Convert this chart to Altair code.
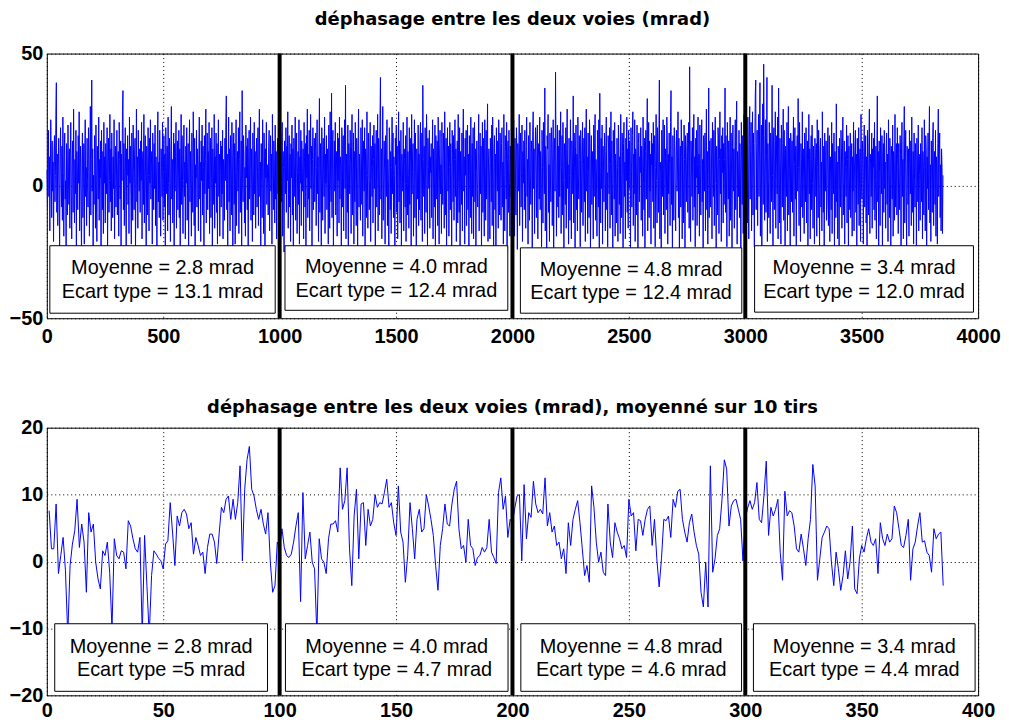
import altair as alt
import pandas as pd

# Raw phase difference (mrad), one value every 2 shots (shot numbers 1..3849)
RAW = [
    6, -9, 14, 21, -4, 11, -17, 3, 25, 8, -12, 17, -2, 9, -21, 13, 19, -6, 4, 27, 39, -10, 12, -15, 7,
    18, -3, -24, 10, 22, 1, -8, 15, -13, 26, 5, -19, 11, 20, -5, 2, -27, 16, 9, -11, 23, 3, -7, 14, -16,
    12, 24, -1, -20, 8, 17, -10, 29, 4, -14, 10, -3, 21, -23, 13, 6, -9, 19, 1, 28, -17, 7, 15, -6, -26,
    9, 20, -12, 3, 16, -22, 11, 25, -4, 7, -15, 18, 2, -8, 22, 13, -19, 5, 30, -11, 10, 40, -2, 14, -25,
    4, -7, 19, 12, -16, 23, 0, -21, 15, 8, -5, 26, -13, 10, 3, 17, -28, 21, 6, -9, 13, -18, 24, 1, 11,
    -14, 16, 7, -3, 22, -24, 9, 18, -10, 2, 27, -6, 14, -17, 20, 5, -12, 11, -1, 25, -20, 8, 15, -8, 3,
    21, -11, 6, 13, -19, 24, 10, -5, 17, -23, 12, 2, 28, 36, -9, 16, -15, 7, 22, -2, -26, 14, 4, 19, -7,
    10, -18, 26, 1, 15, -4, -22, 20, 8, -13, 23, 5, -9, 12, 18, -25, 3, 29, -6, 11, -16, 21, 7, -2, 14,
    -10, 17, 2, 24, -20, 9, 13, -7, 27, -14, 6, 19, -3, -28, 15, 10, -11, 22, 4, -17, 18, 1, 25, -5, 8,
    13, -22, 20, 6, -9, 16, -1, 23, -15, 11, 3, -26, 18, 28, -6, 9, -12, 21, 2, -19, 14, 7, -4, 24, -13,
    5, 19, -8, 12, -24, 22, 9, -3, 15, -17, 26, 1, -11, 18, 7, -21, 13, 30, -5, 10, -14, 4, 20, -27, 16,
    -2, 11, 24, -16, 8, 17, -9, 3, 21, -12, 14, -25, 6, 27, -7, 19, 2, -18, 12, 23, -4, 9, -20, 15, 1,
    22, -13, 7, 16, -23, 10, 25, -6, 13, -1, -19, 20, 4, -10, 28, 11, -15, 18, -27, 8, 3, 21, -8, 14, 6,
    -17, 12, 26, -5, 9, -21, 17, 2, 23, -11, 15, 7, -24, 19, -3, 10, 29, -14, 5, 20, -9, 13, -1, 24, -18,
    8, 18, -12, 3, 22, -26, 14, 6, -7, 27, -16, 11, 1, 20, -10, 16, -22, 9, 25, -4, 12, -19, 4, 17, -8,
    15, -3, 21, -20, 10, 6, -13, 18, 2, 23, 34, -9, 12, -25, 7, 26, -6, 14, -17, 19, 3, -11, 24, 9, -28,
    11, 20, -7, 16, -22, 5, 25, -15, 8, 13, -2, 22, -18, 10, 28, -10, 4, 17, -24, 36, 1, -6, 19, 12, -14,
    7, -19, 23, 3, 15, -9, 18, -27, 11, 21, -5, 9, 26, -13, 14, 2, -21, 20, 6, -11, 24, -3, 13, -16, 10,
    18, -8, 5, 22, -15, 12, 29, -4, 9, -23, 16, 1, -12, 25, 7, -18, 20, 11, -26, 14, 3, 24, -7, 8, -1,
    -11, 15, 21, -17, 6, 19, -2, 12, -22, 27, 4, -9, 17, 10, -14, 23, -5, 13, -20, 8, 18, -3, 26, -10, 2,
    9, -14, 20, 4, -6, 24, -19, 13, 7, -25, 17, 11, -3, 22, -10, 15, 2, 28, -16, 6, 19, -8, 12, -21, 16,
    3, 23, -11, 14, -27, 18, 8, -4, 26, -13, 10, 20, -18, 5, 13, -7, 25, -22, 11, 1, 21, -15, 17, 7, -2,
    14, -20, 24, 9, -8, 16, -24, 19, 3, 29, -12, 12, -5, 21, -17, 8, 27, -1, 15, -26, 10, 22, -9, 4, 18,
    -6, 13, 20, -15, 7, 25, -3, 11, -21, 17, 33, -10, 16, 2, -23, 22, 9, -13, 18, 6, -4, 26, -18, 12, 1,
    19, -9, 14, 5, -22, 23, 10, -16, 28, 3, -6, 35, -12, 15, 21, -27, 8, 17, -2, 24, -11, 6, 13, -19, 20,
    2, 18, -14, 26, -5, 11, 7, -24, 22, 14, -8, 19, -17, 9, 25, -1, 38, -20, 12, 4, -10, 23, -26, 16, 10,
    -3, 21, 8, -18, 15, 27, -11, 5, 20, -22, 13, -6, 24, 1, -15, 18, 10, -25, 16, 29, -8, 12, 3, -13, 22,
    11, -7, 25, -19, 6, 17, -2, 22, -23, 14, 9, -12, 28, 4, -16, 20, 13, -9, 2, 24, -21, 15, 7, -4, 19,
    -14, 10, 23, -1, 16, -26, 12, 21, -8, 5, 27, -17, 18, 8, -11, 24, 41, -5, 14, -20, 9, 30, -13, 3, 17,
    6, -22, 19, 12, -4, 25, -15, 10, 2, -27, 22, 16, -9, 13, -18, 7, 26, -3, 20, -12, 11, 4, -24, 18, 8,
    23, -10, 15, -20, 9, 28, -6, 17, -14, 3, 21, -25, 12, 6, -2, 24, -17, 14, 10, -8, 19, -21, 1, 26, -11,
    13, 4, -16, 22, -7, 18, 9, -23, 27, -3, 11, 16, -19, 5, 25, -12, 20, 2, -26, 14, 8, -5, 23, -15, 12,
    -9, 17, 24, -13, 6, 20, -21, 38, 10, -4, 15, -18, 22, 3, -10, 27, 13, -24, 18, 7, -1, 21, -16, 11, 5,
    16, -12, 9, 25, -20, 14, 2, -8, 23, -27, 19, 11, -5, 17, -15, 26, 6, -22, 12, 21, -3, 8, -18, 24, 0,
    -7, 20, 13, -16, 28, 5, -11, 18, -24, 10, 22, -2, 15, -19, 7, 24, -9, 16, 3, -25, 21, 12, -6, 19, -13,
    10, 25, -4, 14, -21, 8, 17, -14, 27, 1, -10, 22, -26, 13, 6, -7, 20, -17, 15, 29, -2, 11, -22, 18, 4,
    21, -15, 7, 23, -9, 12, -25, 19, 3, -12, 26, 9, -18, 16, -4, 22, -20, 10, 24, -6, 14, -23, 5, 17, -1,
    -8, 13, 27, -17, 6, 20, -3, 15, -26, 11, 24, -10, 18, 2, -19, 25, 8, -13, 21, -5, 16, 31, -21, 9, 14,
    3, -20, 18, 10, -6, 23, -15, 26, 7, -24, 14, 19, -9, 12, -28, 22, 5, -2, 17, -16, 25, 11, -11, 20, 6,
    -13, 16, 22, -8, 9, -22, 27, 4, -17, 19, 13, -5, 24, -25, 10, 17, -10, 21, 1, -19, 15, 8, -4, 23, -7,
    12, -6, 25, 7, -19, 18, 3, -11, 22, 14, -24, 16, 9, -2, 27, -15, 11, 20, -8, 5, 23, -21, 13, 1, 17,
    -9, 21, 6, -16, 15, 26, -4, 10, -22, 19, 8, -13, 24, 3, -7, 17, 12, -26, 20, 28, -1, 14, -18, 9, 22,
    4, -12, 18, 23, -20, 11, 16, -5, 26, -9, 13, 2, -23, 21, 7, -14, 24, 10, -3, 37, -17, 15, 6, -25, 19,
    14, 27, -10, 8, -21, 20, 3, -6, 22, 16, -15, 11, 25, -27, 9, 18, -2, 43, 12, -19, 5, 23, -8, 15, -12,
    21, -4, 13, 28, -18, 7, 19, -11, 24, 2, -24, 16, 10, -7, 22, -16, 14, 29, -1, 8, -22, 18, 4, -13, 25,
    9, -20, 17, 11, -3, 34, -14, 20, 6, -26, 15, 23, -9, 12, -17, 26, 3, -5, 19, 10, -23, 21, 13, -10, 7,
    24, -15, 8, 18, -6, 22, -21, 14, 29, -2, 11, -18, 20, 5, -12, 25, 16, -25, 9, 19, -7, 13, 2, -20, 23,
    -4, 16, 27, -13, 10, 3, -19, 21, 12, -8, 25, -24, 35, 7, -14, 18, -1, 23, -22, 15, 9, -6, 20, 11, -17,
    13, 26, -9, 5, -23, 19, 14, -3, 22, -16, 8, 28, -11, 17, 1, -26, 21, 10, -5, 24, -19, 12, 6, -14, 18,
    7, -21, 23, 15, -7, 11, -18, 27, 4, -12, 20, 13, -25, 16, 24, -4, 9, -20, 18, 2, 26, -10, 14, -16, 21,
    -1, 17, 10, -24, 22, 6, -8, 19, 28, -15, 12, -3, 25, -21, 14, 8, -11, 23, 3, -27, 16, 20, -6, 11, 5,
    22, -13, 15, 9, -19, 26, 1, -9, 18, -25, 13, 21, -5, 10, 33, -17, 6, 24, -12, 17, -2, 12, -22, 20, 8,
    16, -6, 24, -16, 11, 19, -23, 7, 27, 2, -14, 22, 13, -10, 18, 40, -20, 9, 5, -26, 21, 15, -4, 25, -11,
    10, 23, -18, 14, 4, -9, 26, 17, -22, 12, -3, 20, 8, -15, 24, 36, -7, 11, -25, 19, 3, -13, 22, 16, -5,
    -17, 13, 21, -2, 9, 28, -12, 18, -24, 6, 15, -8, 25, 11, -20, 17, 2, -14, 23, 10, -27, 19, 7, -6, 14,
    20, -10, 12, 24, -16, 45, 5, -21, 17, 9, -4, 22, -13, 14, 27, -8, 11, -23, 18, 3, 21, -15, 8, 26, -3,
    12, -19, 23, 6, -11, 16, 25, -6, 10, -26, 19, 14, -2, 20, -17, 8, 29, -9, 13, -22, 4, 37, -12, 17, 2,
    -8, 18, 9, -20, 24, 13, -4, 21, -15, 11, 26, 1, -24, 15, 7, -11, 22, 18, -18, 10, 28, -3, 14, -21, 19,
    5, 22, -14, 16, -7, 10, 37, -10, 19, 3, -23, 24, 12, -5, 17, -19, 9, 26, -13, 20, 6, -26, 15, 23, -2,
    14, -16, 11, 25, -9, 18, 32, -22, 13, 7, -4, 21, -12, 16, 3, -25, 24, 10, -7, 19, -18, 12, 27, -1, 8,
    15, -8, 22, 11, -14, 26, 3, -20, 18, 30, -5, 13, 24, -17, 9, 28, -11, 20, 6, -23, 16, 35, 40, -9, 12,
    21, -15, 10, 27, -4, 17, 39, -19, 8, 23, -26, 14, 31, -7, 46, 19, -13, 5, 25, -10, 11, 41, -21, 16, 2,
    -12, 24, 9, -18, 20, 13, -6, 38, 4, -24, 17, 22, -9, 11, 28, -16, 7, 19, -3, 26, -20, 37, 12, -14, 18,
    6, -22, 23, 10, -8, 16, 29, -13, 21, 3, -25, 15, 9, -4, 24, -17, 12, 30, -11, 18, 1, -27, 20, 14, -6,
    17, -10, 13, 26, -19, 8, 22, -5, 15, -23, 11, 19, -2, 33, 7, -15, 24, 4, -21, 16, 10, -8, 28, -12, 14,
    3, -18, 20, 9, -6, 22, -14, 12, 17, -25, 6, 27, -3, 14, -20, 10, 19, -9, 23, 1, -16, 15, 8, -22, 18,
    11, -4, 16, -19, 25, 7, -12, 21, 2, -24, 13, 18, -8, 9, -17, 28, 5, -10, 15, -26, 20, 12, -2, 17, -13,
    -7, 14, 22, -15, 8, 19, -21, 11, 4, -9, 24, -18, 16, 10, -3, 20, -25, 13, 6, -12, 31, -6, 9, -20, 15,
    12, -23, 18, 5, -8, 21, 14, -16, 9, 26, -11, 2, 17, -22, 13, 7, -4, 23, -14, 10, 19, -27, 15, 3, -9,
    20, -12, 8, 16, -19, 11, -2, 24, -17, 6, 15, 21, -10, 12, -24, 18, 4, -7, 22, -15, 9, 14, -21, 27, 1,
    -5, 17, 10, -22, 13, 23, -8, 6, 19, -14, 11, -26, 21, 3, -11, 16, 29, -18, 8, 12, -4, 20, -16, 14, 7,
    18, -9, 24, -13, 2, 15, -20, 10, 34, -6, 13, -23, 17, 5, -15, 22, 9, -3, 19, -25, 11, 16, -10, 21, -1,
    9, -16, 14, 20, -7, 12, -21, 25, 4, -12, 18, 8, -24, 15, 11, -5, 23, -19, 13, 6, -13, 27, -8, 10, 16,
    -11, 22, 7, -18, 16, 3, -9, 19, 12, -26, 14, 24, -4, 10, -20, 17, 30, -14, 8, 21, -2, -23, 15, 11, -7,
    14, -19, 21, 8, -3, 17, -15, 26, 6, -10, 13, -22, 20, 2, -8, 16, 11, -25, 18, 9, -6, 23, -17, 12, 4,
    -13, 16, 10, -6, 22, -20, 13, 7, -11, 25, 3, -17, 19, 14, -24, 11, -1, 20, -9, 15, 30, -14, 8, -21, 17,
    6, -10, 18, 24, -15, 9, 13, -7, 21, -19, 11, 5, -22, 16, 29, -4, 12, 20, -12, 8, -17, 14, 7, -18, 4,
]
RAW_STEP = 2

# Phase difference averaged over 10 shots (mrad), points 1..385
AVG = [
    7.6, 1.9, 1.9, 8.6, -1.8, 0.9, 3.6, -1.3, -11, -0.6,
    2.6, 4.6, 9.3, 2.1, 5.6, 2.9, -4.6, 7.3, 4.4, 5.6,
    -0.1, -2.6, -4.1, 1.6, 0.9, 2.9, -1.6, -10, 3.4, 0.9,
    0.4, 1.6, 1.4, -1.1, 6.1, 5.3, 3.4, 1.9, 1.4, 3.6,
    -11, 3.9, -3.6, -11, -2.1, 1.6, 1.1, 0.5, 0.1, -1.1,
    2.6, 3.1, 8.8, 4.4, -0.6, 6.8, 5.3, 7.3, 7.8, 7.1,
    4.9, 5.8, 1.1, 3.6, 2.4, 0.9, 1.4, -1.8, 2.1, 4.1,
    4.1, 2.9, -0.3, 4.1, 8.1, 7.3, 9.3, 9.8, 6.3, 9.3,
    6.3, 8.8, 14.3, 0.1, 10.8, 15.2, 17.2, 10.8, 9.8, 7.8,
    6.3, 7.8, 5.6, 4.1, 7.3, -0.1, -4.6, -3.6, 2.9, 2.0,
    4.9, 2.1, 0.9, 0.6, 1.1, 2.9, 5.3, 7.3, -6, 10.3,
    0.4, 2.4, 4.4, -0.1, -1.1, -11, 3.4, 0.4, -0.1, -1.8,
    3.4, 5.6, 5.6, 6.1, 4.4, 14, 7.8, 9.1, 14, 2.0,
    -3.6, 6.8, 10.8, 0.4, 8.6, 8.8, 2.4, 7.8, 5.3, 6.3,
    10, 8.1, 8.8, 8.6, 10.3, 12.3, 8.1, 8.8, 5.8, 3.9,
    11.3, 4.4, 2.9, -3.1, 0.9, 8.8, 4.9, 0.4, 6.3, 7.8,
    4.4, 4.9, 10, 8.3, 6.3, 3.9, -0.6, -4.3, 2.4, 4.9,
    8.6, 5.6, 5.3, 8.6, 10.8, 12, 4.9, 1.9, 2.4, -0.1,
    6.3, 2.4, 1.9, -0.6, 0.6, 0.9, 2.1, 1.4, 2.1, 6.3,
    1.4, 0.6, -0.3, 10.3, 12.5, 7.8, 9.8, 3.6, 6.3, 5.8,
    8, 9.8, 10, 0.1, 11.5, 3.4, 7.3, 6.6, 12, 8.6,
    7.3, 7.8, 7.1, 12.5, 5.3, 7.3, 4.4, 5.3, 2.4, 2.9,
    0.4, 1.9, -1.8, 5.8, 2.4, 6.3, 7.8, 9.1, 5.8, 1.9,
    -2.1, -0.6, -3.1, 11.3, 8.1, 2.9, -0.1, 1.4, -1.6, -2.1,
    8.6, 2.9, 0.6, 5.8, 4.4, 3.4, 1.9, 2.4, 0.6, 9.3,
    6.8, 7.3, 1.6, 6.3, 6.1, 3.9, 6.3, 7.8, 8.3, 2.4,
    6.3, 0.4, -3.8, 0.4, 6.3, 6.1, 6.8, 3.6, 9.3, 8.1,
    10.5, 10.8, 6.3, 4.4, 2.9, 5.8, 7.1, 4.4, 2.4, 1.1,
    -4.6, -6.8, -0.1, -6.8, 14.3, -1.6, 0.4, 3.9, 4.9, 9.3,
    15.2, 13.8, 5.3, 8.3, 9.1, 9.3, 7.8, 6.3, 0.1, 6.3,
    8, 9.1, 7.8, 8.8, 11.8, 6.3, 5.8, 9.8, 15, 3.9,
    8.1, 6.8, 7.8, 9.3, 1.4, -2.8, 10.5, 6.8, 7.6, 7.3,
    5.3, 1.9, 1.4, 4.1, 1.9, -0.6, 3.4, 6.3, 14.5, 11.3,
    -2.8, 0.4, 3.6, 4.4, 5.3, 4.9, -0.1, -3.6, 1.4, -1.1,
    -4.3, -2.1, 1.6, -2.6, -0.1, 5.3, -4.1, -4.8, 0.4, 2.4,
    1.4, 3.4, 4.9, 2.9, 2.4, 3.4, -1.8, 5.8, 3.4, 2.4,
    4.1, 2.9, 3.4, 8.3, 7.3, 4.9, 2.4, 2.1, 3.9, 6.3,
    -2.8, 1.9, 2.9, 5.3, 7.3, 2.9, 3.1, 1.4, 0.9, -1.6,
    4.9, 3.4, 4.1, 4.4, -3.6,
]

TITLE_TOP = "déphasage entre les deux voies (mrad)"
TITLE_BOT = "déphasage entre les deux voies (mrad), moyenné sur 10 tirs"

X_TICKS_TOP = [0, 500, 1000, 1500, 2000, 2500, 3000, 3500, 4000]
Y_TICKS_TOP = [-50, 0, 50]
X_TICKS_BOT = [0, 50, 100, 150, 200, 250, 300, 350, 400]
Y_TICKS_BOT = [-20, -10, 0, 10, 20]

SEP_TOP = [1000, 2000, 3000]
SEP_BOT = [100, 200, 300]

TOP_TEXT = [
    "Moyenne = 2.8 mrad\nEcart type = 13.1 mrad",
    "Moyenne = 4.0 mrad\nEcart type = 12.4 mrad",
    "Moyenne = 4.8 mrad\nEcart type = 12.4 mrad",
    "Moyenne = 3.4 mrad\nEcart type = 12.0 mrad",
]
TOP_BOX_X1 = [13, 1023, 2034, 3040]
TOP_BOX_X2 = [981, 1980, 2985, 3980]
TOP_BOX_Y1 = [-22.6, -22.6, -23.4, -22.6]
TOP_BOX_Y2 = [-48.1, -47.0, -48.1, -47.7]

BOT_TEXT = [
    "Moyenne = 2.8 mrad\nEcart type =5 mrad",
    "Moyenne = 4.0 mrad\nEcart type = 4.7 mrad",
    "Moyenne = 4.8 mrad\nEcart type = 4.6 mrad",
    "Moyenne = 3.4 mrad\nEcart type = 4.4 mrad",
]
BOT_BOX_X1 = [3.4, 102.5, 203.6, 303.5]
BOT_BOX_X2 = [94.8, 198.1, 298.4, 398.7]
BOT_BOX_Y1 = [-9.3, -9.3, -9.3, -9.3]
BOT_BOX_Y2 = [-19.4, -19.4, -19.4, -19.4]

TICK_FONT = "Liberation Sans, Arial, sans-serif"
TITLE_FONT = "DejaVu Sans, sans-serif"
BLUE = "#0000ff"


def panel(line_df, seps, texts, bx1, bx2, by1, by2, xdom, xticks, ydom, yticks,
          title, width, height, title_offset, xpad):
    xs = alt.Scale(domain=xdom, nice=False, zero=False)
    ys = alt.Scale(domain=ydom, nice=False, zero=False)
    ax = alt.Axis(values=xticks, title=None, labelFont=TICK_FONT, labelFontSize=20,
                  labelFontWeight="bold", labelColor="black", grid=True,
                  gridColor="black", gridDash=[1, 3], gridOpacity=1, gridWidth=1,
                  ticks=False, domain=False, labelPadding=xpad, labelFlush=False,
                  labelOverlap=False, format="d")
    ay = alt.Axis(values=yticks, title=None, labelFont=TICK_FONT, labelFontSize=20,
                  labelFontWeight="bold", labelColor="black", grid=True,
                  gridColor="black", gridDash=[1, 3], gridOpacity=1, gridWidth=1,
                  ticks=False, domain=False, labelPadding=4, labelFlush=False,
                  labelOverlap=False, format="d")

    line = alt.Chart(line_df).mark_line(color=BLUE, strokeWidth=1).encode(
        x=alt.X("x:Q", scale=xs, axis=ax),
        y=alt.Y("y:Q", scale=ys, axis=ay),
    )
    sep_df = pd.DataFrame({"x": seps})
    rules = alt.Chart(sep_df).mark_rule(color="black", strokeWidth=4).encode(
        x=alt.X("x:Q", scale=xs, axis=ax)
    )
    box_df = pd.DataFrame({"x": bx1, "x2": bx2, "y": by1, "y2": by2, "label": texts})
    box_df["cx"] = (box_df["x"] + box_df["x2"]) / 2
    box_df["cy"] = (box_df["y"] + box_df["y2"]) / 2
    rects = alt.Chart(box_df).mark_rect(fill="white", stroke="black", strokeWidth=1).encode(
        x=alt.X("x:Q", scale=xs, axis=ax), x2="x2:Q",
        y=alt.Y("y:Q", scale=ys, axis=ay), y2="y2:Q",
    )
    labels = alt.Chart(box_df).mark_text(
        font=TICK_FONT, fontSize=20, color="black", lineBreak="\n", lineHeight=24,
        align="center", baseline="middle", dy=-11,
    ).encode(
        x=alt.X("cx:Q", scale=xs, axis=ax),
        y=alt.Y("cy:Q", scale=ys, axis=ay),
        text="label:N",
    )
    return alt.layer(line, rules, rects, labels).properties(
        width=width, height=height,
        title=alt.TitleParams(title, font=TITLE_FONT, fontSize=18, fontWeight="bold",
                              color="black", anchor="middle", offset=title_offset),
    )


top_df = pd.DataFrame({"x": [1 + RAW_STEP * i for i in range(len(RAW))], "y": RAW})
bot_df = pd.DataFrame({"x": list(range(1, len(AVG) + 1)), "y": AVG})

top = panel(top_df, SEP_TOP, TOP_TEXT, TOP_BOX_X1, TOP_BOX_X2, TOP_BOX_Y1, TOP_BOX_Y2,
            [0, 4000], X_TICKS_TOP, [-50, 50], Y_TICKS_TOP, TITLE_TOP, 936, 266, 15, 8)
bot = panel(bot_df, SEP_BOT, BOT_TEXT, BOT_BOX_X1, BOT_BOX_X2, BOT_BOX_Y1, BOT_BOX_Y2,
            [0, 400], X_TICKS_BOT, [-20, 20], Y_TICKS_BOT, TITLE_BOT, 936, 269, 1, 5)

chart = alt.vconcat(top, bot, spacing=51).properties(
    padding={"left": 0, "top": 0, "right": 0, "bottom": 0},
    background="white",
).configure_view(stroke="black", strokeWidth=1)

chart.save("out.html", embed_options={"renderer": "svg", "actions": False})
